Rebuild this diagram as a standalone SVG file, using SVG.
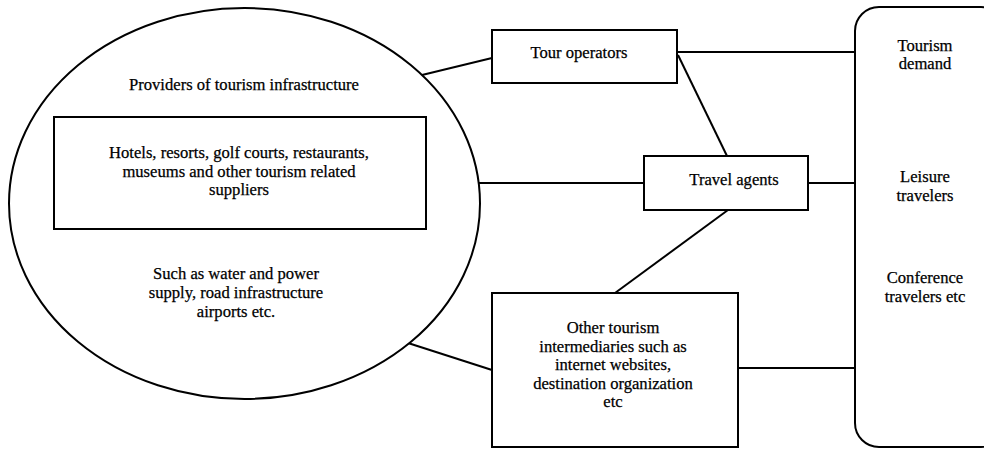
<svg xmlns="http://www.w3.org/2000/svg" width="984" height="449" viewBox="0 0 984 449">
<style>
.s{fill:none;stroke:#000;stroke-width:2}
.b{fill:#fff;stroke:#000;stroke-width:2}
text{font-family:"Liberation Serif","Times New Roman",serif;font-size:16.6px;fill:#000;text-anchor:middle;stroke:#000;stroke-width:0.25}
</style>
<rect width="984" height="449" fill="#fff"/>
<g id="connectors" class="s">
<line x1="422" y1="75" x2="492" y2="58"/>
<line x1="677" y1="52" x2="855" y2="52"/>
<line x1="678" y1="55" x2="727" y2="156"/>
<line x1="479" y1="183" x2="644" y2="183"/>
<line x1="808" y1="183" x2="855" y2="183"/>
<line x1="728" y1="210" x2="615" y2="293"/>
<line x1="408" y1="343" x2="492" y2="370"/>
<line x1="738" y1="368" x2="855" y2="368"/>
</g>
<g id="providers">
<ellipse class="b" cx="244.5" cy="203.5" rx="235.5" ry="195.5"/>
<text x="244" y="90">Providers of tourism infrastructure</text>
<text x="236" y="279">Such as water and power</text>
<text x="236" y="298">supply, road infrastructure</text>
<text x="236" y="316.5">airports etc.</text>
</g>
<g id="suppliers">
<rect class="b" x="54" y="117" width="372" height="112"/>
<text x="239" y="158">Hotels, resorts, golf courts, restaurants,</text>
<text x="239" y="176.5">museums and other tourism related</text>
<text x="239" y="195">suppliers</text>
</g>
<g id="tour-operators">
<rect class="b" x="492" y="30" width="185" height="53"/>
<text x="579" y="58">Tour operators</text>
</g>
<g id="travel-agents">
<rect class="b" x="644" y="156" width="164" height="54"/>
<text x="734" y="185">Travel agents</text>
</g>
<g id="other-intermediaries">
<rect class="b" x="492" y="293" width="246" height="154"/>
<text x="613" y="333">Other tourism</text>
<text x="613" y="351.5">intermediaries such as</text>
<text x="613" y="370">internet websites,</text>
<text x="613" y="388.5">destination organization</text>
<text x="613" y="407">etc</text>
</g>
<g id="tourism-demand">
<rect class="b" x="855" y="7" width="150" height="440" rx="24"/>
<text x="925" y="50.5">Tourism</text>
<text x="925" y="69">demand</text>
<text x="925" y="182">Leisure</text>
<text x="925" y="200.5">travelers</text>
<text x="925" y="283">Conference</text>
<text x="925" y="301.5">travelers etc</text>
</g>
</svg>
